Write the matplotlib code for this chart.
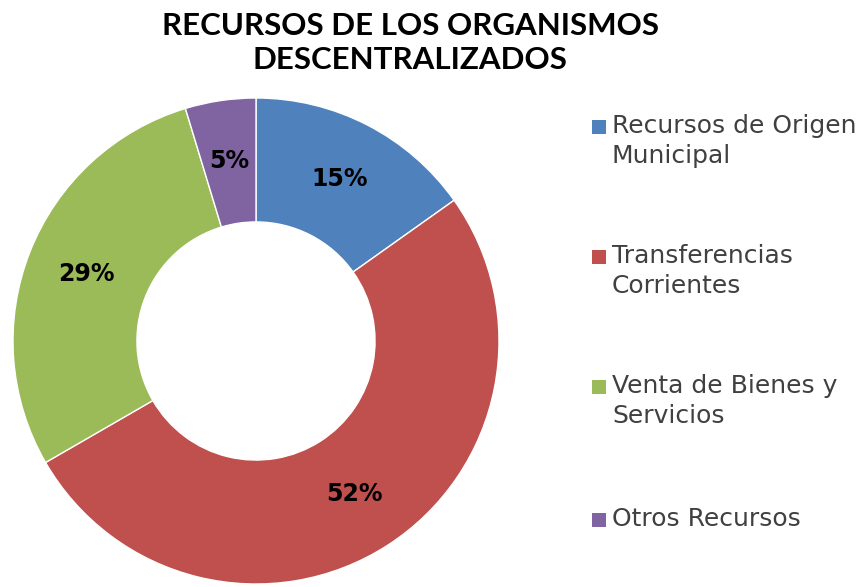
import matplotlib
matplotlib.use("Agg")
import matplotlib.pyplot as plt
from matplotlib.patches import Rectangle
import numpy as np

categories = ["Recursos de Origen\nMunicipal", "Transferencias\nCorrientes",
              "Venta de Bienes y\nServicios", "Otros Recursos"]
values = [15.2, 51.6, 28.7, 4.7]
pct_labels = ["15%", "52%", "29%", "5%"]
colors = ["#4F81BD", "#C0504D", "#9BBB59", "#8064A2"]
title = "RECURSOS DE LOS ORGANISMOS\nDESCENTRALIZADOS"

fig = plt.figure(figsize=(8.67, 5.87), dpi=100)
ax = fig.add_axes([13/867, 3/587, 486/867, 486/587])

wedges, _ = ax.pie(values, colors=colors, startangle=90, counterclock=False,
                   radius=1.0,
                   wedgeprops=dict(width=0.51, edgecolor="white", linewidth=1))
total = sum(values)
cum = 0
for v, lab in zip(values, pct_labels):
    mid = 90 - (cum + v / 2) / total * 360
    cum += v
    r = 0.75
    ax.text(r * np.cos(np.radians(mid)), r * np.sin(np.radians(mid)), lab,
            ha="center", va="center", fontsize=17, fontweight="bold",
            family="DejaVu Sans", color="black")
ax.set_xlim(-1, 1)
ax.set_ylim(-1, 1)
ax.set_aspect("equal")
ax.axis("off")

fig.text(410/867, 1 - 43/587, title, ha="center", va="center", fontsize=22.5,
         fontweight="bold", family="Lato", linespacing=1.3)

leg_y = [127, 257, 387, 520]
for i, (cat, col) in enumerate(zip(categories, colors)):
    y = leg_y[i]
    fig.add_artist(Rectangle((592/867, 1 - (y + 7)/587), 14/867, 14/587,
                             transform=fig.transFigure, facecolor=col,
                             edgecolor="none"))
    fig.text(612/867, 1 - (y - 13)/587, cat, ha="left", va="top", fontsize=18,
             family="DejaVu Sans", color="#404040", linespacing=1.3)

fig.savefig("out.png", dpi=100)
